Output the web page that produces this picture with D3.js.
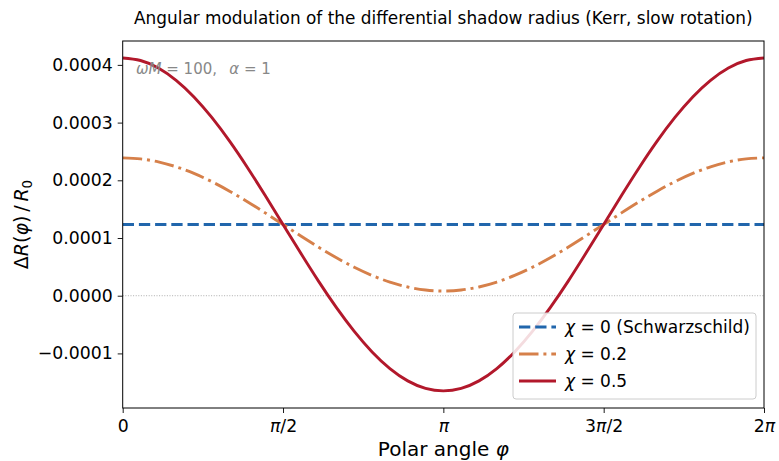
<!DOCTYPE html>
<html><head><meta charset="utf-8">
<script src="https://cdn.jsdelivr.net/npm/d3@7"></script>
<style>body{margin:0;background:#fff}svg{display:block}text{font-family:"DejaVu Sans",sans-serif}</style>
</head><body><svg id="c" width="779" height="461"></svg>
<script>
// sampled every 10 degrees from 0 to 2π
const phiDeg = [0,10,20,30,40,50,60,70,80,90,100,110,120,130,140,150,160,170,180,190,200,210,220,230,240,250,260,270,280,290,300,310,320,330,340,350,360];
const chi0 = [0.0001235,0.0001235,0.0001235,0.0001235,0.0001235,0.0001235,0.0001235,0.0001235,0.0001235,0.0001235,0.0001235,0.0001235,0.0001235,0.0001235,0.0001235,0.0001235,0.0001235,0.0001235,0.0001235,0.0001235,0.0001235,0.0001235,0.0001235,0.0001235,0.0001235,0.0001235,0.0001235,0.0001235,0.0001235,0.0001235,0.0001235,0.0001235,0.0001235,0.0001235,0.0001235,0.0001235,0.0001235];
const chi02 = [0.0002389,0.0002371,0.0002319,0.0002234,0.0002119,0.0001977,0.0001812,0.0001630,0.0001435,0.0001235,0.0001035,0.0000840,0.0000658,0.0000493,0.0000351,0.0000236,0.0000151,0.0000099,0.0000081,0.0000099,0.0000151,0.0000236,0.0000351,0.0000493,0.0000658,0.0000840,0.0001035,0.0001235,0.0001435,0.0001630,0.0001812,0.0001977,0.0002119,0.0002234,0.0002319,0.0002371,0.0002389];
const chi05 = [0.0004120,0.0004076,0.0003946,0.0003733,0.0003445,0.0003089,0.0002678,0.0002222,0.0001736,0.0001235,0.0000734,0.0000248,-0.0000208,-0.0000619,-0.0000975,-0.0001263,-0.0001476,-0.0001606,-0.0001650,-0.0001606,-0.0001476,-0.0001263,-0.0000975,-0.0000619,-0.0000208,0.0000248,0.0000734,0.0001235,0.0001736,0.0002222,0.0002678,0.0003089,0.0003445,0.0003733,0.0003946,0.0004076,0.0004120];
const xTickVals = [0, Math.PI/2, Math.PI, 3*Math.PI/2, 2*Math.PI];
const xTickLabels = [["0","",""],["","π","/2"],["","π",""],["3","π","/2"],["2","π",""]];
const yTickVals = [-0.0001,0,0.0001,0.0002,0.0003,0.0004];
const seriesNames = ["χ = 0 (Schwarzschild)","χ = 0.2","χ = 0.5"];
const seriesColors = ["#2166ac","#d6804a","#b2182b"];
const seriesDash = ["11.3,4.9","19.5,4.9,3,4.9",null];

const svg = d3.select("#c");
const L=122.7,R=764,T=41,B=408;
const x = d3.scaleLinear().domain([0,2*Math.PI]).range([L,R]);
const y = d3.scaleLinear().domain([-0.0001946,0.0004414]).range([B,T]);
const phi = phiDeg.map(d=>d*Math.PI/180);

// zero line
svg.append("line").attr("x1",L).attr("x2",R).attr("y1",y(0)).attr("y2",y(0))
  .attr("stroke","#999").attr("stroke-width",0.8).attr("stroke-dasharray","1,1.6");

svg.append("defs").append("clipPath").attr("id","clip").append("rect")
  .attr("x",L).attr("y",T).attr("width",R-L).attr("height",B-T);

const line = d3.line().x((d,i)=>x(phi[i])).y(d=>y(d)).curve(d3.curveNatural);
[chi0,chi02,chi05].forEach((s,k)=>{
  svg.append("path").datum(s).attr("d",line).attr("fill","none")
    .attr("stroke",seriesColors[k]).attr("stroke-width",2.9)
    .attr("stroke-dasharray",seriesDash[k]).attr("clip-path","url(#clip)");
});

// axes
const xa = svg.append("g").attr("transform",`translate(0,${B})`)
  .call(d3.axisBottom(x).tickValues(xTickVals).tickFormat("").tickSize(5).tickPadding(7));
xa.selectAll(".tick text").each(function(d,i){
  const t=d3.select(this); t.text(null);
  const p=xTickLabels[i];
  t.append("tspan").text(p[0]); t.append("tspan").attr("font-style","italic").text(p[1]); t.append("tspan").text(p[2]);
});
const ya = svg.append("g").attr("transform",`translate(${L},0)`)
  .call(d3.axisLeft(y).tickValues(yTickVals).tickFormat(d=>d3.format(".4f")(d).replace("-","−")).tickSize(5).tickPadding(5));
[xa,ya].forEach(g=>{g.select(".domain").remove();
  g.selectAll("text").attr("font-size",17.3).attr("fill","#000").attr("font-family","DejaVu Sans");
  g.selectAll("line").attr("stroke","#000").attr("stroke-width",0.9);});
svg.append("rect").attr("x",L).attr("y",T).attr("width",R-L).attr("height",B-T)
  .attr("fill","none").attr("stroke","#000").attr("stroke-width",1);

// title & labels
svg.append("text").attr("x",(L+R)/2).attr("y",24).attr("text-anchor","middle").attr("font-size",16.9)
  .text("Angular modulation of the differential shadow radius (Kerr, slow rotation)");
const xl = svg.append("text").attr("x",(L+R)/2).attr("y",456).attr("text-anchor","middle").attr("font-size",20);
xl.append("tspan").text("Polar angle ");
xl.append("tspan").attr("font-style","italic").text("φ");
const yl = svg.append("text").attr("transform",`translate(28,${(T+B)/2}) rotate(-90)`).attr("text-anchor","middle").attr("font-size",19);
yl.append("tspan").text("Δ");
yl.append("tspan").attr("font-style","italic").text("R");
yl.append("tspan").text("(");
yl.append("tspan").attr("font-style","italic").text("φ");
yl.append("tspan").text(")\u2009/\u2009");
yl.append("tspan").attr("font-style","italic").text("R");
yl.append("tspan").attr("font-size",13.5).attr("dy",4).text("0");

const ann = svg.append("text").attr("x",136).attr("y",74).attr("font-size",15).attr("fill","#888");
ann.append("tspan").attr("font-style","italic").text("ωM");
ann.append("tspan").text(" = 100,\u00a0\u2002");
ann.append("tspan").attr("font-style","italic").text("α");
ann.append("tspan").text(" = 1");

// legend
const lg = svg.append("g");
lg.append("rect").attr("x",513).attr("y",313).attr("width",243).attr("height",86).attr("rx",3)
  .attr("fill","#fff").attr("fill-opacity",0.85).attr("stroke","#ccc").attr("stroke-width",1);
seriesNames.forEach((n,k)=>{
  const yy = 327 + k*27;
  lg.append("line").attr("x1",519).attr("x2",556).attr("y1",yy).attr("y2",yy)
    .attr("stroke",seriesColors[k]).attr("stroke-width",2.9).attr("stroke-dasharray",seriesDash[k]);
  const t = lg.append("text").attr("x",565).attr("y",yy+6).attr("font-size",17);
  t.append("tspan").attr("font-style","italic").text("χ");
  t.append("tspan").text(n.slice(1));
});
</script></body></html>
